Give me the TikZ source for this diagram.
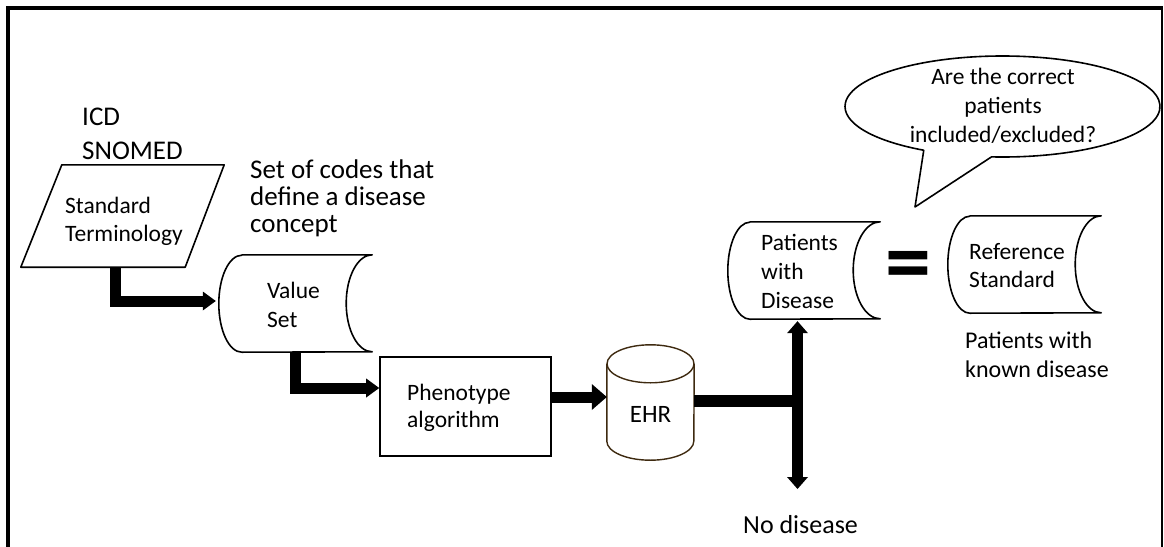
\documentclass[tikz,border=0pt]{standalone}
\usepackage{fontspec}
\setmainfont{Carlito}
\usetikzlibrary{arrows.meta}
\newcommand\LftLines[1]{\vtop{\halign{##\hfil\cr#1\crcr}}}
\newcommand\CtrLines[1]{\vtop{\halign{\hfil##\hfil\cr#1\crcr}}}
\definecolor{ehrbrown}{HTML}{3E2A10}
\newcommand\storedshape[3]{%
  \draw[shapeline] ([xshift=#2]#1.north west) -- (#1.north east)
    arc[start angle=90, end angle=270, x radius=#3, y radius=48.5pt]
    -- ([xshift=#2]#1.south west)
    arc[start angle=270, end angle=90, x radius=#2, y radius=48.5pt] -- cycle;}
\begin{document}
\begin{tikzpicture}[x=1pt,y=-1pt,
  shapeline/.style={draw=black, line width=1.6pt, line join=round},
  box/.style={inner sep=0pt, minimum width=#1, minimum height=97pt},
  txt/.style={inner sep=0pt, anchor=base west, font=\fontsize{23.5}{29}\selectfont},
  bigtxt/.style={inner sep=0pt, anchor=base west, font=\fontsize{27}{27}\selectfont},
  fat/.style={line width=11pt, -{Triangle[length=13pt,width=19pt,line width=0pt]}},
  fatbig/.style={line width=11pt, -{Triangle[length=15pt,width=26pt,line width=0pt]}},
  fatdbl/.style={line width=11pt, {Triangle[length=12pt,width=21pt,line width=0pt]}-{Triangle[length=12pt,width=21pt,line width=0pt]}}]
\useasboundingbox (0,0) rectangle (1164,546);
% frame
\draw[line width=4pt] (8,548) -- (8,8) -- (1163,8);
\draw[line width=1.3pt] (1162,8) -- (1162,548);

% Standard terminology (parallelogram)
\node[inner sep=0pt, minimum width=203pt, minimum height=102pt] (st) at (122.5,216) {};
\draw[shapeline] ([xshift=41pt]st.north west) -- (st.north east)
  -- ([xshift=-39pt]st.south east) -- (st.south west) -- cycle;
\node[txt, font=\fontsize{23.5}{28}\selectfont] (sttext) at (65,213) {\LftLines{Standard\cr Terminology}};
\node[bigtxt, font=\fontsize{27}{34}\selectfont] (icd) at (82,125) {\LftLines{ICD\cr SNOMED}};

% Value set
\node[box=153pt] (vs) at (295.5,303.5) {};
\storedshape{vs}{23pt}{26pt}
\node[txt] (vstext) at (267,298) {\LftLines{Value\cr Set}};
\node[bigtxt] (codes) at (250,178) {\LftLines{Set of codes that\cr define a disease\cr concept}};

% Phenotype algorithm
\node[draw, line width=1.6pt, inner sep=0pt, minimum width=171pt, minimum height=99pt] (ph) at (465.5,406.5) {};
\node[txt, font=\fontsize{23.5}{27}\selectfont] (phtext) at (407,400) {\LftLines{Phenotype\cr algorithm}};

% EHR cylinder
\node[inner sep=0pt, minimum width=87pt, minimum height=115pt] (ehr) at (650.5,402.5) {};
\draw[draw=ehrbrown, line width=1.4pt] ([yshift=-19pt]ehr.north west) -- ([yshift=19pt]ehr.south west)
  arc[start angle=180, end angle=360, x radius=43.5pt, y radius=19pt]
  -- ([yshift=-19pt]ehr.north east);
\draw[draw=ehrbrown, line width=1.4pt] ([yshift=-19pt]ehr.north) ellipse[x radius=43.5pt, y radius=19pt];
\node[txt, anchor=base, font=\fontsize{25}{29}\selectfont] (ehrtext) at (650.5,422) {EHR};

% Patients with disease
\node[box=152pt] (pwd) at (804,270.5) {};
\storedshape{pwd}{22pt}{27pt}
\node[txt] (pwdtext) at (761,250) {\LftLines{Patients\cr with\cr Disease}};

% equals
\node[inner sep=0pt, font=\fontsize{92}{92}\selectfont\bfseries] (eq) at (908.5,272) {=};

% Reference standard
\node[box=153pt] (ref) at (1024.5,264.5) {};
\storedshape{ref}{22pt}{26pt}
\node[txt, font=\fontsize{23.5}{28}\selectfont] (reftext) at (969,259) {\LftLines{Reference\cr Standard}};
\node[txt, font=\fontsize{24}{29}\selectfont] (known) at (965,348) {\LftLines{Patients with\cr known disease}};

\node[bigtxt, font=\fontsize{26}{27}\selectfont] (nodis) at (743,533) {No disease};

% speech bubble
\coordinate (bubc) at (1002.5,106.5);
\coordinate (tip) at (915,207);
\draw[shapeline] ([shift={(266:157.5pt and 50.5pt)}]bubc)
  arc[start angle=266, end angle=600, x radius=157.5pt, y radius=50.5pt] -- (tip) -- cycle;
\node[txt, anchor=base] (bubtext) at (1003,84) {\CtrLines{Are the correct\cr patients\cr included/excluded?}};

% connectors
\coordinate (split) at (797.5,401);
\coordinate (nd) at (797.5,489);
\draw[fat, shorten >=3pt] ([xshift=-7.5pt]st.south) |- ([yshift=2.5pt]vs.west);
\draw[fat] (vs.south) |- ([yshift=18.5pt]ph.west);
\draw[fatbig] ([yshift=9.5pt]ph.east) -- ([yshift=9.5pt]ph.east -| ehr.west);
\draw[line width=12pt] (ehr.east |- split) -- (split);
\draw[fatdbl] ([yshift=-2pt]pwd.south -| split) -- (nd);
\end{tikzpicture}
\end{document}
